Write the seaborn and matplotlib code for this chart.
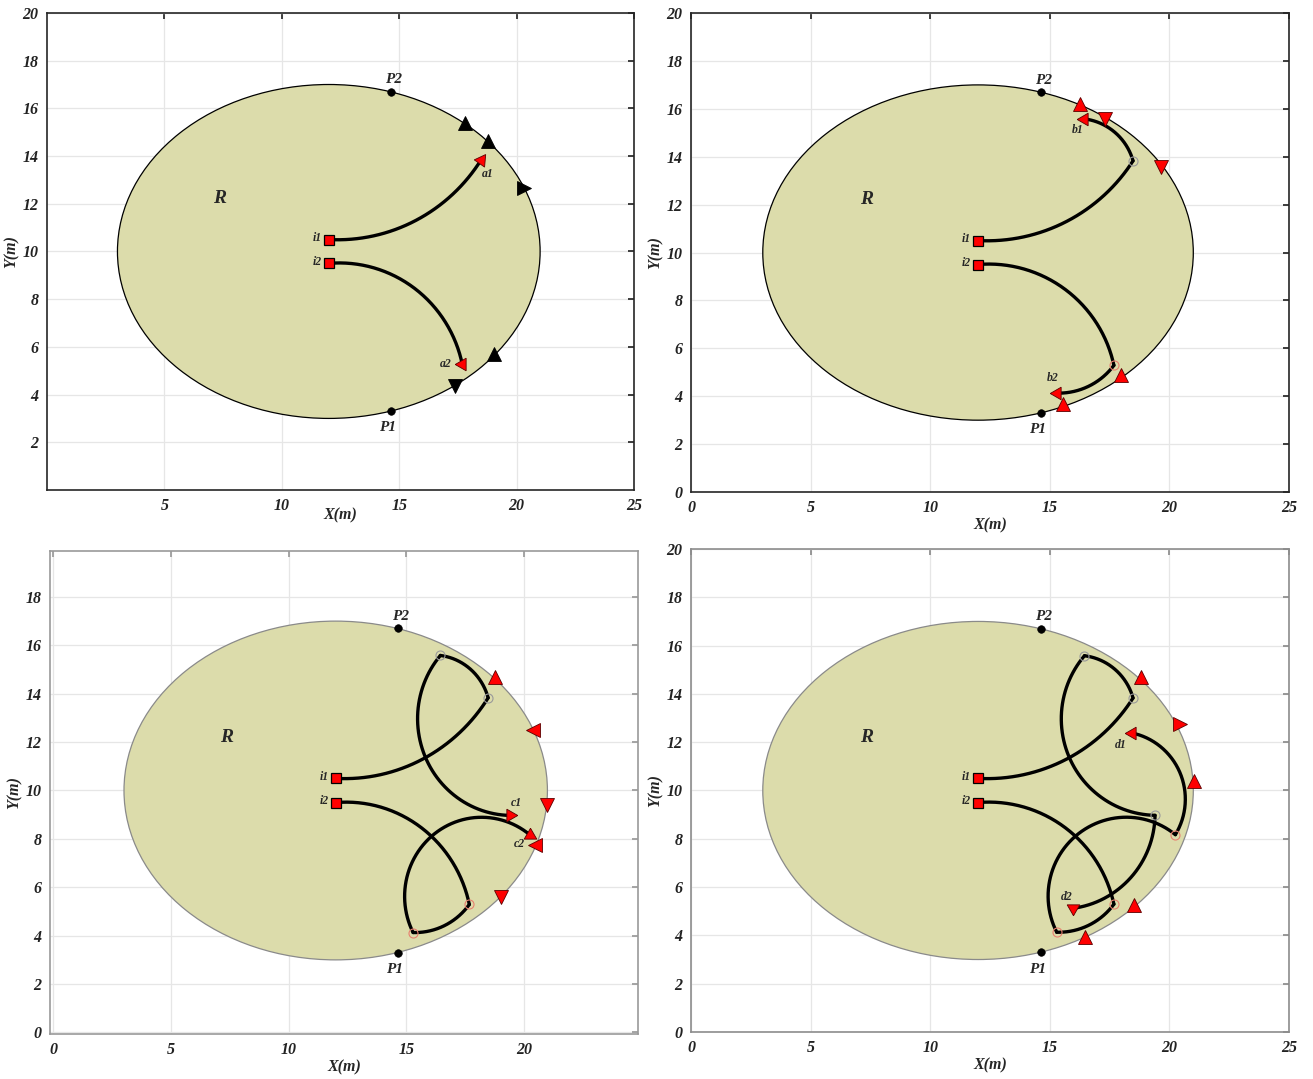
import numpy as np
import matplotlib
matplotlib.use("Agg")
import matplotlib.pyplot as plt
from matplotlib.patches import Ellipse
import seaborn as sns
import pandas as pd

# ---- region R (elliptical workspace) ----
REGION_CENTER = (12.0, 10.0)
REGION_SEMI_AXES = (9.0, 7.0)

# ---- reference points on the boundary ----
P_NAMES = ["P1", "P2"]
P_X = [14.65, 14.65]
P_Y = [3.30, 16.70]

# ---- two agents: waypoints, turning radii and turn sense of each arc ----
PATH1_X = [12.00, 18.48, 16.45, 19.40, 15.97]
PATH1_Y = [10.50, 13.83, 15.58, 8.97, 5.12]
PATH1_R = [7.25, 2.42, 4.00, 3.95]
PATH1_TURN = ["L", "L", "L", "R"]

PATH2_X = [12.00, 17.68, 15.29, 20.25, 18.44]
PATH2_Y = [9.50, 5.29, 4.13, 8.17, 12.38]
PATH2_R = [5.35, 2.88, 3.27, 2.80]
PATH2_TURN = ["R", "R", "R", "L"]

STAGE_LETTERS = ["a", "b", "c", "d"]
# end-of-stage label positions (agent 1, agent 2)
STAGE_LABEL_X = [[18.77, 16.98], [16.18, 15.13], [19.70, 19.79], [17.98, 15.72]]
STAGE_LABEL_Y = [[13.24, 5.30], [15.13, 4.75], [9.47, 7.78], [11.88, 5.59]]
# direction (degrees) each end-of-stage arrowhead points to
STAGE_ARROW_DEG = [[55, 180], [180, 180], [0, -30], [-90, 180]]

# ---- boundary markers per stage ----
BND_X = [[17.79, 18.77, 20.30, 19.02, 17.36],
         [16.26, 17.30, 19.65, 17.98, 15.55],
         [18.77, 20.38, 20.98, 20.47, 19.02],
         [18.81, 20.44, 21.03, 18.52, 16.47]]
BND_Y = [[15.37, 14.62, 12.66, 5.72, 4.34],
         [16.20, 15.58, 13.58, 4.87, 3.67],
         [14.69, 12.49, 9.39, 7.74, 5.59],
         [14.70, 12.75, 10.39, 5.26, 3.93]]
BND_M = [["^", "^", ">", "^", "v"],
         ["^", "v", "v", "^", "^"],
         ["^", "<", "v", "<", "v"],
         ["^", ">", "^", "^", "^"]]
BND_COLOR = ["black", "red", "red", "red"]

# ---- axes setup per panel ----
AX_RECTS = [(0.0358, 0.5459, 0.4471, 0.4421),
            (0.5263, 0.5440, 0.4554, 0.4439),
            (0.0380, 0.0420, 0.4479, 0.4474),
            (0.5263, 0.0436, 0.4554, 0.4476)]
XLIMS = [(0, 25), (0, 25), (-0.15, 24.85), (0, 25)]
YLIMS = [(0, 20), (0, 20), (-0.05, 19.9), (0, 20)]
XTICKS = [[5, 10, 15, 20, 25], [0, 5, 10, 15, 20, 25], [0, 5, 10, 15, 20], [0, 5, 10, 15, 20, 25]]
YTICKS = [list(range(2, 21, 2)), list(range(0, 21, 2)), list(range(0, 19, 2)), list(range(0, 21, 2))]
SPINE_COLOR = ["#262626", "#262626", "#9a9a9a", "#8c8c8c"]
EDGE_COLOR = ["black", "black", "#8a8a8a", "#8a8a8a"]
XLABEL_PAD = [-5, 1, 1, 1]

FILL = "#dcdcab"

sns.set_theme(style="whitegrid")
plt.rcParams["font.family"] = ["Liberation Serif", "DejaVu Serif"]
plt.rcParams["font.weight"] = "bold"
plt.rcParams["font.style"] = "italic"

BI = dict(fontweight="bold", fontstyle="italic", family=["Liberation Serif", "DejaVu Serif"])


def arc_points(p0, p1, radius, turn, n=160):
    """Circular arc of given radius from p0 to p1 turning left (CCW) or right (CW)."""
    p0 = np.asarray(p0, float)
    p1 = np.asarray(p1, float)
    d = p1 - p0
    L = np.hypot(d[0], d[1])
    mid = (p0 + p1) / 2
    h = np.sqrt(max(radius ** 2 - (L / 2) ** 2, 0.0))
    nrm = np.array([-d[1], d[0]]) / L
    sgn = 1.0 if turn == "L" else -1.0
    c = mid + sgn * h * nrm
    a0 = np.arctan2(p0[1] - c[1], p0[0] - c[0])
    a1 = np.arctan2(p1[1] - c[1], p1[0] - c[0])
    if turn == "L":
        while a1 < a0:
            a1 += 2 * np.pi
    else:
        while a1 > a0:
            a1 -= 2 * np.pi
    t = np.linspace(a0, a1, n)
    r = np.linspace(np.hypot(*(p0 - c)), np.hypot(*(p1 - c)), n)
    return c[0] + r * np.cos(t), c[1] + r * np.sin(t)


def path_frame(px, py, radii, turns, nseg):
    xs, ys = [], []
    for k in range(nseg):
        x, y = arc_points((px[k], py[k]), (px[k + 1], py[k + 1]), radii[k], turns[k])
        xs.append(x)
        ys.append(y)
    return pd.DataFrame({"x": np.concatenate(xs), "y": np.concatenate(ys),
                         "seg": np.repeat(np.arange(nseg), [len(x) for x in xs])})


fig = plt.figure(figsize=(13.13, 10.79), dpi=100)

for k in range(4):
    ax = fig.add_axes(AX_RECTS[k])
    ax.set_xlim(*XLIMS[k])
    ax.set_ylim(*YLIMS[k])
    ax.set_xticks(XTICKS[k])
    ax.set_yticks(YTICKS[k])
    ax.grid(True, color="#e6e6e6", lw=0.9)
    ax.set_axisbelow(True)
    ax.set_facecolor("white")
    for s in ax.spines.values():
        s.set_color(SPINE_COLOR[k])
        s.set_linewidth(1.2)
    ax.tick_params(direction="in", length=4, top=True, right=True, labelsize=11.5,
                   color=SPINE_COLOR[k], pad=6)
    for lab in ax.get_xticklabels() + ax.get_yticklabels():
        lab.set_fontweight("bold")
        lab.set_fontstyle("italic")
        lab.set_color("#222222")

    ax.add_patch(Ellipse(REGION_CENTER, 2 * REGION_SEMI_AXES[0], 2 * REGION_SEMI_AXES[1],
                         facecolor=FILL, edgecolor=EDGE_COLOR[k], lw=0.9, zorder=1))

    nseg = k + 1
    for (px, py, rr, tt, wcol) in [(PATH1_X, PATH1_Y, PATH1_R, PATH1_TURN, "#9a9a9a"),
                                   (PATH2_X, PATH2_Y, PATH2_R, PATH2_TURN, "#e8806f")]:
        df = path_frame(px, py, rr, tt, nseg)
        for seg, g in df.groupby("seg"):
            sns.lineplot(data=g, x="x", y="y", sort=False, estimator=None, ax=ax,
                         color="black", lw=2.4, zorder=3)
        # intermediate waypoints
        if nseg > 1:
            ax.plot(px[1:nseg], py[1:nseg], "o", ms=6.5, mfc="none", mec=wcol, mew=0.8, zorder=4)

    # start squares
    ax.plot([PATH1_X[0], PATH2_X[0]], [PATH1_Y[0], PATH2_Y[0]], "s", ms=7,
            mfc="red", mec="black", mew=0.9, zorder=5)
    ax.text(11.5, 10.55, "i1", fontsize=8.5, ha="center", va="center", **BI)
    ax.text(11.5, 9.55, "i2", fontsize=8.5, ha="center", va="center", **BI)

    # stage end arrowheads and labels
    ends = [(PATH1_X[nseg], PATH1_Y[nseg]), (PATH2_X[nseg], PATH2_Y[nseg])]
    for j in range(2):
        ax.plot(ends[j][0], ends[j][1], marker=(3, 0, STAGE_ARROW_DEG[k][j] - 90),
                ms=10.5, mfc="red", mec="#5a0000", mew=0.6, zorder=6)
        ax.text(STAGE_LABEL_X[k][j], STAGE_LABEL_Y[k][j], f"{STAGE_LETTERS[k]}{j + 1}",
                fontsize=8.5, ha="center", va="center", **BI)

    # boundary markers
    for x, y, m in zip(BND_X[k], BND_Y[k], BND_M[k]):
        ax.plot(x, y, m, ms=9.5, mfc=BND_COLOR[k],
                mec="black" if k == 0 else "#5a0000", mew=0.6, zorder=6)

    # P1 / P2
    sns.scatterplot(x=P_X, y=P_Y, color="black", s=30, ax=ax, zorder=6, edgecolor="black")
    ax.text(14.5, 2.6, "P1", fontsize=11, ha="center", va="center", **BI)
    ax.text(14.75, 17.2, "P2", fontsize=11, ha="center", va="center", **BI)
    ax.text(7.35, 12.2, "R", fontsize=14, ha="center", va="center", **BI)

    ax.set_xlabel("X(m)", fontsize=11.5, labelpad=XLABEL_PAD[k], **BI)
    ax.set_ylabel("Y(m)", fontsize=11.5, labelpad=2, **BI)

fig.savefig("out.png", dpi=100)
